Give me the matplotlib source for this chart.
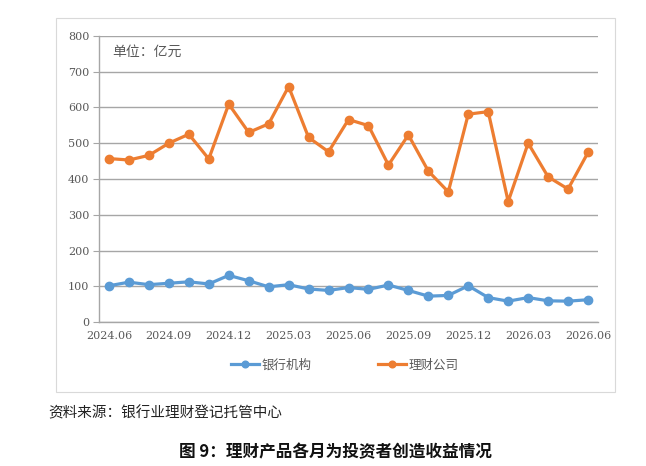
import matplotlib
matplotlib.use("Agg")
import matplotlib.pyplot as plt
from matplotlib.patches import Rectangle

plt.rcParams['font.family'] = ['Noto Sans CJK SC', 'DejaVu Sans']

months = ["2024.06", "2024.07", "2024.08", "2024.09", "2024.10", "2024.11", "2024.12",
          "2025.01", "2025.02", "2025.03", "2025.04", "2025.05", "2025.06", "2025.07",
          "2025.08", "2025.09", "2025.10", "2025.11", "2025.12", "2026.01", "2026.02",
          "2026.03", "2026.04", "2026.05", "2026.06"]
bank = [102, 112, 105, 109, 113, 107, 131, 116, 99, 105, 93, 89, 97, 92,
        104, 89, 73, 75, 102, 69, 59, 69, 60, 59, 63]
wmc = [457, 453, 466, 500, 525, 456, 609, 530, 554, 658, 516, 476, 566, 549,
       439, 523, 422, 364, 581, 588, 337, 500, 406, 372, 474]
tick_labels = ["2024.06", "2024.09", "2024.12", "2025.03", "2025.06", "2025.09",
               "2025.12", "2026.03", "2026.06"]
yticks = [0, 100, 200, 300, 400, 500, 600, 700, 800]

W, H = 646, 466
fig = plt.figure(figsize=(W / 100, H / 100), dpi=100)

# chart frame
fig.patches.append(Rectangle((56 / W, 1 - 392 / H), (615 - 56) / W, (392 - 18) / H,
                             transform=fig.transFigure, fill=False,
                             edgecolor='#d9d9d9', linewidth=0.8))

ax = fig.add_axes([99 / W, 1 - 322.3 / H, (598 - 99) / W, (322.3 - 35.7) / H])
x = list(range(len(months)))
ax.plot(x, bank, color='#5B9BD5', linewidth=2.3, marker='o', markersize=6,
        label='银行机构', zorder=3)
ax.plot(x, wmc, color='#ED7D31', linewidth=2.3, marker='o', markersize=6,
        label='理财公司', zorder=3)

ax.set_xlim(-0.5, len(months) - 0.5)
ax.set_ylim(0, 800)
ax.set_yticks(yticks)
ax.set_yticklabels([str(v) for v in yticks], family='DejaVu Serif', fontsize=8, color='#595959')
ax.set_xticks([months.index(t) for t in tick_labels])
ax.set_xticklabels(tick_labels, family='DejaVu Serif', fontsize=8, color='#595959')
ax.yaxis.grid(True, color='#a6a6a6', linewidth=1.0)
ax.set_axisbelow(True)
for s in ['top', 'right']:
    ax.spines[s].set_visible(False)
ax.spines['left'].set_color('#a6a6a6')
ax.spines['bottom'].set_color('#a6a6a6')
ax.spines['left'].set_linewidth(1.0)
ax.spines['bottom'].set_linewidth(1.0)
ax.tick_params(axis='y', length=4, color='#a6a6a6', pad=3)
ax.tick_params(axis='x', length=0, pad=6)

ax.text(112 / W, 1 - 52 / H, '单位：亿元', transform=fig.transFigure, fontsize=10,
        color='#595959', va='center', ha='left')

leg = fig.legend(loc='center', bbox_to_anchor=(345 / W, 1 - 365 / H), ncol=2, frameon=False,
                 fontsize=9, labelcolor='#595959', handlelength=2.2, columnspacing=5.3,
                 handletextpad=0.25, markerscale=0.8)

fig.text(48 / W, 1 - 413 / H, '资料来源：银行业理财登记托管中心', fontsize=10.5,
         color='#222222', va='center', ha='left')
fig.text(335 / W, 1 - 452 / H, '图 9：理财产品各月为投资者创造收益情况', fontsize=12,
         fontweight='bold', color='#111111', va='center', ha='center')

fig.savefig('out.png', dpi=100)
